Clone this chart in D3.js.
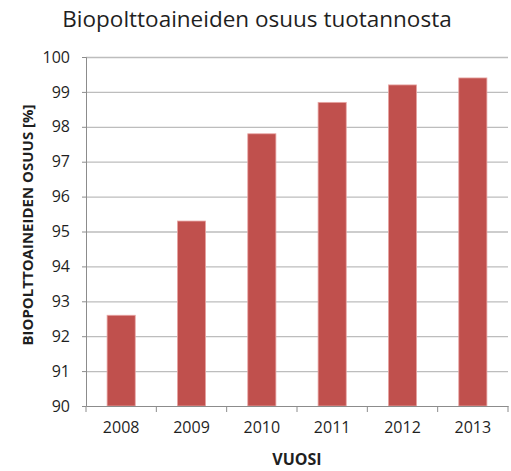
<!DOCTYPE html>
<html>
  <head>
    <meta charset="utf-8" />
    <title>Biopolttoaineiden osuus tuotannosta</title>
    <script src="https://d3js.org/d3.v7.min.js"></script>
    <style>
      body { margin: 0; background: #fff; }
      text { font-family: "Open Sans", sans-serif; fill: #1f1f1f; }
    </style>
  </head>
  <body>
    <div id="chart"></div>

    <script>
      const years = ["2008", "2009", "2010", "2011", "2012", "2013"];
      const shares = [92.6, 95.3, 97.8, 98.7, 99.2, 99.4];
      const yTicks = [90, 91, 92, 93, 94, 95, 96, 97, 98, 99, 100];

      const width = 511, height = 471;
      const margin = { top: 57, right: 3, bottom: 65, left: 86 };

      const svg = d3.select("#chart").append("svg")
        .attr("width", width)
        .attr("height", height);

      const x = d3.scaleBand()
        .domain(years)
        .range([margin.left, width - margin.right])
        .paddingInner(0.6)
        .paddingOuter(0.3);

      const y = d3.scaleLinear()
        .domain([90, 100])
        .range([height - margin.bottom, margin.top]);

      // gridlines
      svg.append("g")
        .selectAll("line")
        .data(yTicks.slice(1))
        .enter()
        .append("line")
        .attr("x1", margin.left)
        .attr("x2", width - margin.right)
        .attr("y1", d => y(d) + 0.5)
        .attr("y2", d => y(d) + 0.5)
        .attr("stroke", "#bdbdbd")
        .attr("stroke-width", 1.3);

      // bars
      svg.append("g")
        .selectAll("rect")
        .data(years)
        .enter()
        .append("rect")
        .attr("x", d => x(d))
        .attr("y", (d, i) => y(shares[i]))
        .attr("width", x.bandwidth())
        .attr("height", (d, i) => y(90) - y(shares[i]))
        .attr("fill", "#c0504d")
        .attr("stroke", "#e8a6a4")
        .attr("stroke-width", 0.8);

      // y axis
      const yAxis = svg.append("g")
        .attr("transform", `translate(${margin.left},0)`)
        .call(d3.axisLeft(y).tickValues(yTicks).tickSize(4).tickPadding(12).tickFormat(d3.format("d")));
      yAxis.select(".domain").attr("stroke", "#8c8c8c");
      yAxis.selectAll(".tick line").attr("stroke", "#8c8c8c");
      yAxis.selectAll(".tick text").style("font-size", "16px").style("font-family", "'Open Sans', sans-serif").attr("fill", "#1f1f1f");

      // x axis
      const xAxis = svg.append("g")
        .attr("transform", `translate(0,${height - margin.bottom})`)
        .call(d3.axisBottom(x).tickSize(0).tickPadding(16));
      xAxis.select(".domain").attr("stroke", "#8c8c8c");
      xAxis.selectAll(".tick text").style("font-size", "16px").style("font-family", "'Open Sans', sans-serif").attr("fill", "#1f1f1f");

      // category boundary ticks
      xAxis.append("g")
        .selectAll("line")
        .data(d3.range(years.length + 1))
        .enter()
        .append("line")
        .attr("x1", i => margin.left + i * (width - margin.left - margin.right) / years.length)
        .attr("x2", i => margin.left + i * (width - margin.left - margin.right) / years.length)
        .attr("y1", 0)
        .attr("y2", 6)
        .attr("stroke", "#8c8c8c");

      // title
      svg.append("text")
        .attr("x", 257)
        .attr("y", 27)
        .attr("text-anchor", "middle")
        .style("font-size", "22.5px")
        .text("Biopolttoaineiden osuus tuotannosta");

      // axis titles
      svg.append("text")
        .attr("x", (margin.left + width - margin.right) / 2)
        .attr("y", 465)
        .attr("text-anchor", "middle")
        .style("font-size", "16px")
        .style("font-weight", "bold")
        .text("VUOSI");

      svg.append("text")
        .attr("transform", "translate(33,225) rotate(-90)")
        .attr("text-anchor", "middle")
        .style("font-size", "15px")
        .style("font-weight", "bold")
        .text("BIOPOLTTOAINEIDEN OSUUS [%]");
    </script>
  </body>
</html>
